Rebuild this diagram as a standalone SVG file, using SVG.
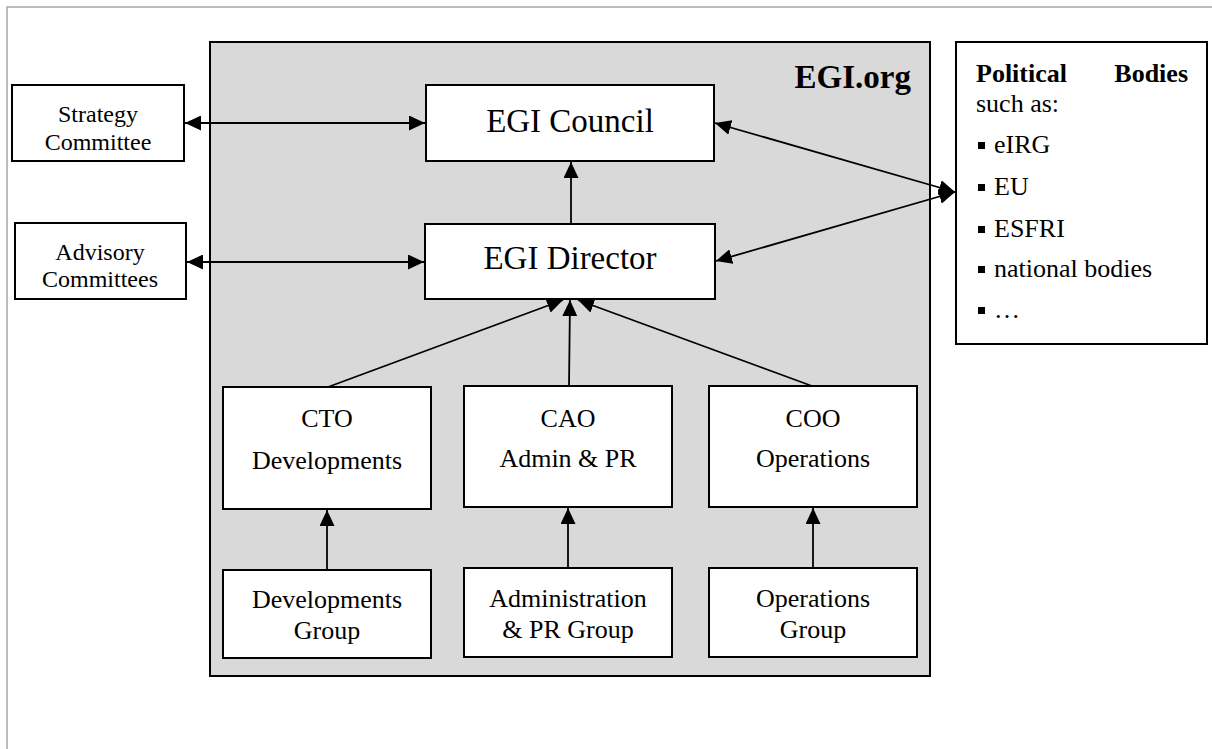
<svg xmlns="http://www.w3.org/2000/svg" width="1212" height="749" viewBox="0 0 1212 749">
<style>
.box{fill:#fff;stroke:#000;stroke-width:2}
.t{font-family:"Liberation Serif","Times New Roman",serif;fill:#000;text-anchor:middle}
.s24{font-size:24px}
.s26{font-size:26px}
.s33{font-size:33px}
.b{font-weight:bold}
.c{fill:none;stroke:#000;stroke-width:1.8}
</style>
<defs>
<marker id="ah" markerUnits="userSpaceOnUse" markerWidth="16" markerHeight="15" refX="16" refY="7.5" orient="auto-start-reverse" viewBox="0 0 16 15">
<path d="M0,0 L16,7.5 L0,15 z" fill="#000"/>
</marker>
</defs>
<rect width="1212" height="749" fill="#fff"/>
<path d="M7,749 V7 H1212" fill="none" stroke="#a6a6a6" stroke-width="1.5"/>
<g id="egi-org">
<rect x="210" y="42" width="720" height="634" fill="#d9d9d9" stroke="#000" stroke-width="2"/>
<text class="t s33 b" x="911" y="88" style="text-anchor:end">EGI.org</text>
</g>
<g id="strategy">
<rect class="box" x="12" y="85" width="172" height="76"/>
<text class="t s24" x="98" y="122">Strategy</text>
<text class="t s24" x="98" y="150">Committee</text>
</g>
<g id="advisory">
<rect class="box" x="15" y="223" width="171" height="76"/>
<text class="t s24" x="100" y="260">Advisory</text>
<text class="t s24" x="100" y="287">Committees</text>
</g>
<g id="council">
<rect class="box" x="426" y="85" width="288" height="76"/>
<text class="t s33" x="570" y="132">EGI Council</text>
</g>
<g id="director">
<rect class="box" x="425" y="224" width="290" height="75"/>
<text class="t s33" x="570" y="269">EGI Director</text>
</g>
<g id="political">
<rect class="box" x="956" y="42" width="251" height="302"/>
<text class="t s26 b" x="976" y="82" style="text-anchor:start">Political</text>
<text class="t s26 b" x="1188" y="82" style="text-anchor:end">Bodies</text>
<text class="t s26" x="976" y="112" style="text-anchor:start">such as:</text>
<rect x="978" y="142" width="7" height="7"/>
<text class="t s26" x="994" y="153" style="text-anchor:start">eIRG</text>
<rect x="978" y="184" width="7" height="7"/>
<text class="t s26" x="994" y="195" style="text-anchor:start">EU</text>
<rect x="978" y="226" width="7" height="7"/>
<text class="t s26" x="994" y="237" style="text-anchor:start">ESFRI</text>
<rect x="978" y="266" width="7" height="7"/>
<text class="t s26" x="994" y="277" style="text-anchor:start">national bodies</text>
<rect x="978" y="307" width="7" height="7"/>
<text class="t s26" x="994" y="318" style="text-anchor:start">…</text>
</g>
<g id="cto">
<rect class="box" x="223" y="387" width="208" height="122"/>
<text class="t s26" x="327" y="427">CTO</text>
<text class="t s26" x="327" y="469">Developments</text>
</g>
<g id="cao">
<rect class="box" x="464" y="386" width="208" height="121"/>
<text class="t s26" x="568" y="427">CAO</text>
<text class="t s26" x="568" y="467">Admin &amp; PR</text>
</g>
<g id="coo">
<rect class="box" x="709" y="386" width="208" height="121"/>
<text class="t s26" x="813" y="427">COO</text>
<text class="t s26" x="813" y="467">Operations</text>
</g>
<g id="dev-group">
<rect class="box" x="223" y="570" width="208" height="88"/>
<text class="t s26" x="327" y="608">Developments</text>
<text class="t s26" x="327" y="639">Group</text>
</g>
<g id="admin-group">
<rect class="box" x="464" y="568" width="208" height="89"/>
<text class="t s26" x="568" y="607">Administration</text>
<text class="t s26" x="568" y="638">&amp; PR Group</text>
</g>
<g id="ops-group">
<rect class="box" x="709" y="568" width="208" height="89"/>
<text class="t s26" x="813" y="607">Operations</text>
<text class="t s26" x="813" y="638">Group</text>
</g>
<g id="connectors">
<line class="c" x1="185" y1="123" x2="425" y2="123" marker-start="url(#ah)" marker-end="url(#ah)"/>
<line class="c" x1="187" y1="262" x2="424" y2="262" marker-start="url(#ah)" marker-end="url(#ah)"/>
<line class="c" x1="571" y1="224" x2="571" y2="162" marker-end="url(#ah)"/>
<line class="c" x1="715" y1="123" x2="955" y2="192" marker-start="url(#ah)" marker-end="url(#ah)"/>
<line class="c" x1="716" y1="261" x2="955" y2="192" marker-start="url(#ah)" marker-end="url(#ah)"/>
<line class="c" x1="328" y1="387" x2="563" y2="300" marker-end="url(#ah)"/>
<line class="c" x1="569" y1="386" x2="570" y2="300" marker-end="url(#ah)"/>
<line class="c" x1="812" y1="386" x2="578" y2="300" marker-end="url(#ah)"/>
<line class="c" x1="327" y1="570" x2="327" y2="510" marker-end="url(#ah)"/>
<line class="c" x1="568" y1="568" x2="568" y2="508" marker-end="url(#ah)"/>
<line class="c" x1="813" y1="568" x2="813" y2="508" marker-end="url(#ah)"/>
</g>
</svg>
